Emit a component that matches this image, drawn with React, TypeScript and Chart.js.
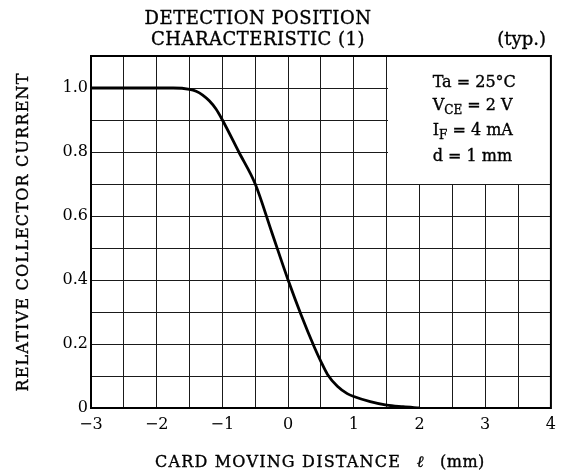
import React, { useEffect, useRef } from "react";
import { Chart, registerables } from "chart.js";

Chart.register(...registerables);

// Data
const distanceMm = [-3, -2.5, -2, -1.75, -1.5, -1.4, -1.3, -1.2, -1.1, -1, -0.75, -0.5, -0.25, 0, 0.2, 0.4, 0.5, 0.6, 0.75, 0.9, 1, 1.25, 1.5, 1.75, 2];
const relativeCurrent = [1, 1, 1, 1, 0.996, 0.99, 0.978, 0.96, 0.935, 0.9, 0.8, 0.7, 0.55, 0.4, 0.29, 0.19, 0.145, 0.105, 0.068, 0.045, 0.036, 0.02, 0.009, 0.004, 0];

const xTickValues = [-3, -2, -1, 0, 1, 2, 3, 4];
const xTickLabels = ["\u22123", "\u22122", "\u22121", "0", "1", "2", "3", "4"];
const yTickValues = [0, 0.2, 0.4, 0.6, 0.8, 1.0];
const yTickLabels = ["0", "0.2", "0.4", "0.6", "0.8", "1.0"];

const titleLines = ["DETECTION POSITION", "CHARACTERISTIC (1)"];
const typLabel = "(typ.)";
const yTitle = "RELATIVE COLLECTOR CURRENT";
const xTitleMain = "CARD MOVING DISTANCE";
const xTitleSymbol = "\u2113";
const xTitleUnit = "(mm)";
// conditions box: [main, subscript, rest]
const conditions: [string, string, string][] = [
  ["Ta = 25\u00B0C", "", ""],
  ["V", "CE", " = 2 V"],
  ["I", "F", " = 4 mA"],
  ["d = 1 mm", "", ""],
];
const boxRange = { xMin: 1.5, xMax: 4, yMin: 0.7, yMax: 1.1 };

const FONT = '"DejaVu Serif", serif';

function labelFor(values: number[], labels: string[], v: number) {
  for (let i = 0; i < values.length; i++) {
    if (Math.abs(values[i] - v) < 1e-6) return labels[i];
  }
  return "";
}

const overlayPlugin = {
  id: "overlay",
  beforeDatasetsDraw(chart: any) {
    const { ctx, scales } = chart;
    const x0 = scales.x.getPixelForValue(boxRange.xMin);
    const x1 = scales.x.getPixelForValue(boxRange.xMax);
    const y0 = scales.y.getPixelForValue(boxRange.yMax);
    const y1 = scales.y.getPixelForValue(boxRange.yMin);
    ctx.save();
    ctx.fillStyle = "#fff";
    ctx.fillRect(Math.round(x0) + 1, Math.round(y0), Math.round(x1) - Math.round(x0) - 1, Math.round(y1) - Math.round(y0));
    ctx.restore();
  },
  afterDraw(chart: any) {
    const { ctx, chartArea, scales } = chart;
    ctx.save();
    // frame
    ctx.strokeStyle = "#000";
    ctx.lineWidth = 2;
    ctx.strokeRect(chartArea.left, chartArea.top, chartArea.right - chartArea.left, chartArea.bottom - chartArea.top);

    ctx.fillStyle = "#000";
    ctx.strokeStyle = "#000";
    ctx.lineWidth = 0.35;
    const txt = (s: string, x: number, y: number) => {
      ctx.fillText(s, x, y);
      ctx.strokeText(s, x, y);
    };
    // title
    ctx.font = `18px ${FONT}`;
    ctx.textAlign = "center";
    ctx.textBaseline = "alphabetic";
    (ctx as any).letterSpacing = "0.5px";
    txt(titleLines[0], 258, 24);
    txt(titleLines[1], 258, 45);
    ctx.textAlign = "right";
    (ctx as any).letterSpacing = "0px";
    txt(typLabel, 546, 45);

    // y title
    ctx.save();
    ctx.translate(28, 232);
    ctx.rotate(-Math.PI / 2);
    ctx.font = `16px ${FONT}`;
    ctx.textAlign = "center";
    (ctx as any).letterSpacing = "1.2px";
    txt(yTitle, 0, 0);
    ctx.restore();

    // x title
    ctx.font = `16px ${FONT}`;
    ctx.textAlign = "left";
    (ctx as any).letterSpacing = "1.2px";
    txt(xTitleMain, 155, 467);
    (ctx as any).letterSpacing = "0px";
    ctx.font = `italic 16px ${FONT}`;
    ctx.textAlign = "center";
    txt(xTitleSymbol, 420, 467);
    ctx.font = `16px ${FONT}`;
    ctx.textAlign = "left";
    (ctx as any).letterSpacing = "0.5px";
    txt(xTitleUnit, 440, 467);
    (ctx as any).letterSpacing = "0px";

    // conditions
    const bx = scales.x.getPixelForValue(boxRange.xMin) + 46;
    const baselines = [87, 110, 135, 161];
    conditions.forEach((c, i) => {
      let x = bx;
      const y = baselines[i];
      ctx.textAlign = "left";
      ctx.font = `16px ${FONT}`;
      txt(c[0], x, y);
      x += ctx.measureText(c[0]).width;
      if (c[1]) {
        ctx.font = `12px ${FONT}`;
        txt(c[1], x, y + 4);
        x += ctx.measureText(c[1]).width;
        ctx.font = `16px ${FONT}`;
        txt(c[2], x, y);
      }
    });
    ctx.restore();
  },
};

export default function App() {
  const ref = useRef<HTMLCanvasElement | null>(null);
  useEffect(() => {
    document.body.style.margin = "0";
    const canvas = ref.current!;
    const chart = new Chart(canvas, {
      type: "line",
      data: {
        datasets: [
          {
            data: distanceMm.map((x, i) => ({ x, y: relativeCurrent[i] })),
            borderColor: "#000",
            borderWidth: 2.8,
            pointRadius: 0,
            fill: false,
            cubicInterpolationMode: "monotone",
          },
        ],
      },
      options: {
        animation: false,
        responsive: false,
        devicePixelRatio: 1,
        layout: { padding: { top: 56, right: 10, left: 0, bottom: 0 } },
        plugins: { legend: { display: false }, tooltip: { enabled: false }, title: { display: false } },
        scales: {
          x: {
            type: "linear",
            min: -3,
            max: 4,
            ticks: {
              stepSize: 0.5,
              autoSkip: false,
              maxRotation: 0,
              color: "#000",
              padding: 7,
              font: { family: FONT, size: 16 },
              callback: (v: any) => labelFor(xTickValues, xTickLabels, Number(v)),
            },
            grid: { color: "#1a1a1a", lineWidth: 1, drawTicks: false },
            border: { display: true, color: "#000", width: 2 },
            afterFit: (s: any) => {
              s.height = 68;
            },
          },
          y: {
            type: "linear",
            min: 0,
            max: 1.1,
            ticks: {
              stepSize: 0.1,
              autoSkip: false,
              color: "#000",
              padding: 3,
              font: { family: FONT, size: 16 },
              callback: (v: any) => labelFor(yTickValues, yTickLabels, Math.round(Number(v) * 10) / 10),
            },
            grid: { color: "#1a1a1a", lineWidth: 1, drawTicks: false },
            border: { display: true, color: "#000", width: 2 },
            afterFit: (s: any) => {
              s.width = 91;
            },
          },
        },
      },
      plugins: [overlayPlugin],
    } as any);
    return () => chart.destroy();
  }, []);
  return <canvas ref={ref} width={563} height={476} style={{ display: "block", width: 563, height: 476 }} />;
}
